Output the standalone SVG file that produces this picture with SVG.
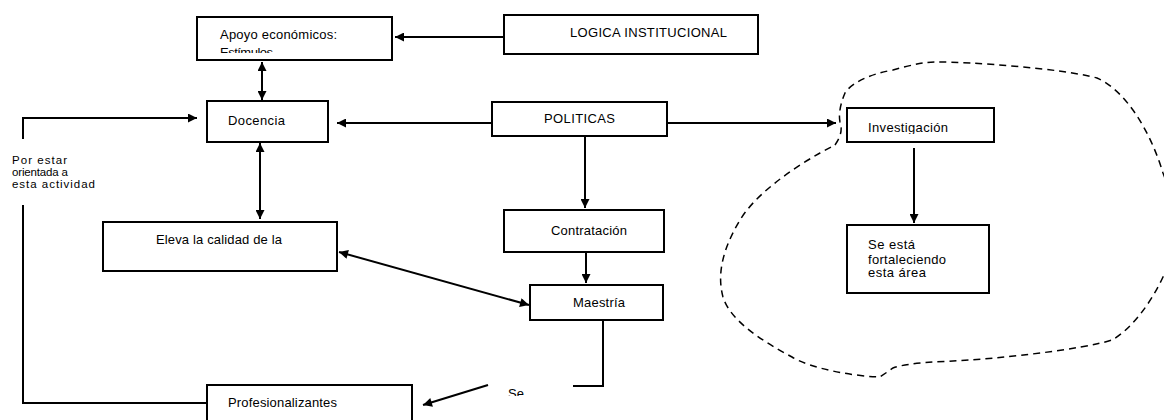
<svg xmlns="http://www.w3.org/2000/svg" width="1164" height="420" viewBox="0 0 1164 420">
<style>
.box{fill:#fff;stroke:#000;stroke-width:2}
.t{font-family:"Liberation Sans",Arial,sans-serif;font-size:13px;fill:#000}
.s{font-size:11.5px}
.c{fill:none;stroke:#000;stroke-width:2}
.cloud{fill:none;stroke:#000;stroke-width:1.5;stroke-dasharray:7 5}
</style>
<defs>
<marker id="ah" viewBox="0 0 10 10" refX="10" refY="5" markerWidth="5" markerHeight="4.5" orient="auto-start-reverse" markerUnits="strokeWidth">
<path d="M0,0 L10,5 L0,10 Z" fill="#000"/>
</marker>
<clipPath id="clipApoyo"><rect x="197" y="17" width="195" height="36"/></clipPath>
<clipPath id="clipInv"><rect x="847" y="108" width="147" height="26"/></clipPath>
<clipPath id="clipSe"><rect x="500" y="380" width="60" height="16"/></clipPath>
</defs>

<path class="cloud" d="M835,145 C842,135 842,128 840,122 C838,112 842,100 845,93 C850,85 865,75 893,70 C915,64 925,62 937,62 C970,62 1060,68 1097,78 C1125,90 1150,130 1163,173 C1178,210 1178,255 1163,277 C1150,305 1130,330 1112,340 C1080,350 1000,358 970,360 C940,362 910,362 893,368 L880,377 C850,376 810,368 792,357 C760,340 730,320 723,297 C717,275 722,250 740,220 C755,195 790,170 820,153 L835,145"/>

<g id="connectors">
<line class="c" x1="504" y1="37" x2="395" y2="37" marker-end="url(#ah)"/>
<line class="c" x1="262" y1="62" x2="262" y2="100" marker-start="url(#ah)" marker-end="url(#ah)"/>
<line class="c" x1="492" y1="123" x2="337" y2="123" marker-end="url(#ah)"/>
<line class="c" x1="667" y1="123" x2="836" y2="123" marker-end="url(#ah)"/>
<polyline class="c" points="207,403 23,403 23,205"/>
<polyline class="c" points="23,139 23,118 197,118" marker-end="url(#ah)"/>
<line class="c" x1="260" y1="143" x2="260" y2="219" marker-start="url(#ah)" marker-end="url(#ah)"/>
<line class="c" x1="585" y1="136" x2="585" y2="208" marker-end="url(#ah)"/>
<line class="c" x1="586" y1="252" x2="586" y2="283" marker-end="url(#ah)"/>
<line class="c" x1="339" y1="252" x2="529" y2="305" marker-start="url(#ah)" marker-end="url(#ah)"/>
<polyline class="c" points="603,320 603,386 573,386"/>
<line class="c" x1="488" y1="385" x2="423" y2="405" marker-end="url(#ah)"/>
<line class="c" x1="914" y1="148" x2="914" y2="223" marker-end="url(#ah)"/>
</g>

<g id="apoyo">
<rect class="box" x="197" y="17" width="195" height="43"/>
<g clip-path="url(#clipApoyo)">
<text class="t" x="220" y="39" textLength="117" lengthAdjust="spacing">Apoyo económicos:</text>
<text class="t" x="220" y="57" textLength="53" lengthAdjust="spacing">Estímulos</text>
</g>
</g>

<g id="logica">
<rect class="box" x="504" y="15" width="254" height="39"/>
<text class="t" x="570" y="37" textLength="157" lengthAdjust="spacing">LOGICA INSTITUCIONAL</text>
</g>

<g id="docencia">
<rect class="box" x="207" y="101" width="121" height="41"/>
<text class="t" x="228" y="125" textLength="57" lengthAdjust="spacing">Docencia</text>
</g>

<g id="politicas">
<rect class="box" x="492" y="102" width="175" height="34"/>
<text class="t" x="544" y="123" textLength="71" lengthAdjust="spacing">POLITICAS</text>
</g>

<g id="investigacion">
<rect class="box" x="847" y="108" width="147" height="34"/>
<text class="t" x="868" y="132" textLength="80" lengthAdjust="spacing" clip-path="url(#clipInv)">Investigación</text>
</g>

<g id="seesta">
<rect class="box" x="847" y="225" width="142" height="68"/>
<text class="t" x="868" y="249" textLength="47" lengthAdjust="spacing">Se está</text>
<text class="t" x="868" y="264" textLength="78" lengthAdjust="spacing">fortaleciendo</text>
<text class="t" x="868" y="277" textLength="58" lengthAdjust="spacing">esta área</text>
</g>

<g id="eleva">
<rect class="box" x="103" y="222" width="234" height="49"/>
<text class="t" x="156" y="244" textLength="126" lengthAdjust="spacing">Eleva la calidad de la</text>
</g>

<g id="contratacion">
<rect class="box" x="504" y="210" width="160" height="42"/>
<text class="t" x="551" y="235" textLength="76" lengthAdjust="spacing">Contratación</text>
</g>

<g id="maestria">
<rect class="box" x="530" y="285" width="133" height="35"/>
<text class="t" x="573" y="307" textLength="52" lengthAdjust="spacing">Maestría</text>
</g>

<g id="se">
<text class="t" x="508" y="398" clip-path="url(#clipSe)">Se</text>
</g>

<g id="profesionalizantes">
<rect class="box" x="207" y="385" width="205" height="45"/>
<text class="t" x="228" y="407" textLength="109" lengthAdjust="spacing">Profesionalizantes</text>
</g>

<g id="porestar">
<text class="t s" x="12" y="164" textLength="55" lengthAdjust="spacing">Por estar</text>
<text class="t s" x="12" y="176" textLength="56" lengthAdjust="spacing">orientada a</text>
<text class="t s" x="12" y="188" textLength="83" lengthAdjust="spacing">esta actividad</text>
</g>
</svg>
